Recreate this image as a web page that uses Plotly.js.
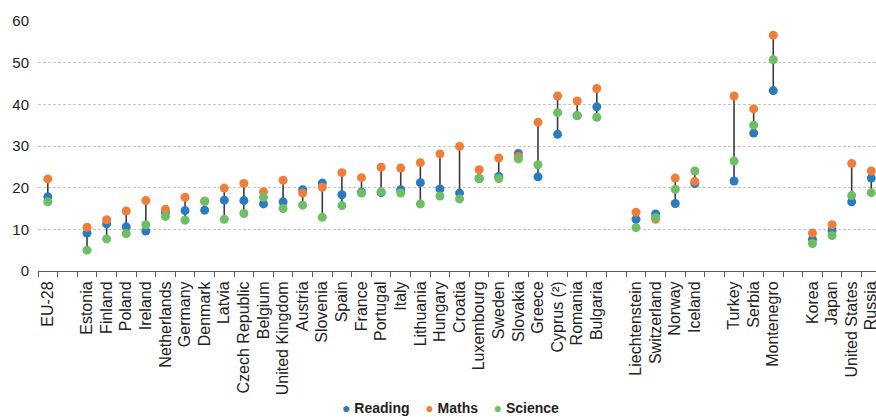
<!DOCTYPE html>
<html>
<head>
<meta charset="utf-8">
<script src="https://cdn.plot.ly/plotly-3.0.1.min.js"></script>
<style>
html,body{margin:0;padding:0;background:#fff;}
#chart{width:876px;height:417px;}
</style>
</head>
<body>
<div id="chart"></div>
<script>
// Categories (blank entries are the visual gaps between country groups)
var categories = ["EU-28", " ",
  "Estonia","Finland","Poland","Ireland","Netherlands","Germany","Denmark","Latvia",
  "Czech Republic","Belgium","United Kingdom","Austria","Slovenia","Spain","France",
  "Portugal","Italy","Lithuania","Hungary","Croatia","Luxembourg","Sweden","Slovakia",
  "Greece","Cyprus (²)","Romania","Bulgaria", "  ",
  "Liechtenstein","Switzerland","Norway","Iceland", "   ",
  "Turkey","Serbia","Montenegro", "    ",
  "Korea","Japan","United States","Russia"];

var reading = [17.8, null,
  9.1, 11.3, 10.6, 9.6, 14.0, 14.5, 14.6, 17.0,
  16.9, 16.1, 16.6, 19.5, 21.1, 18.3, 18.9,
  18.8, 19.5, 21.2, 19.7, 18.7, 22.2, 22.7, 28.2,
  22.6, 32.8, 37.3, 39.4, null,
  12.4, 13.7, 16.2, 21.0, null,
  21.6, 33.1, 43.3, null,
  7.6, 9.8, 16.6, 22.3];

var maths = [22.1, null,
  10.5, 12.3, 14.4, 16.9, 14.8, 17.7, 16.8, 19.9,
  21.0, 19.0, 21.8, 18.7, 20.1, 23.6, 22.4,
  24.9, 24.7, 26.0, 28.1, 29.9, 24.3, 27.1, 27.5,
  35.7, 42.0, 40.8, 43.8, null,
  14.1, 12.4, 22.3, 21.5, null,
  42.0, 38.9, 56.6, null,
  9.1, 11.1, 25.8, 24.0];

var science = [16.6, null,
  5.0, 7.7, 9.0, 11.1, 13.1, 12.2, 16.7, 12.4,
  13.8, 17.7, 15.0, 15.8, 12.9, 15.7, 18.7,
  19.0, 18.7, 16.1, 18.0, 17.3, 22.2, 22.2, 26.9,
  25.5, 38.0, 37.3, 36.9, null,
  10.4, 12.8, 19.6, 24.0, null,
  26.4, 35.0, 50.7, null,
  6.6, 8.5, 18.1, 18.8];

var seriesNames = ["Reading", "Maths", "Science"];
var seriesColors = ["#2B7BC0", "#F07D3A", "#6CBF63"];

// vertical range lines from min to max of the three series
var lx = [], ly = [];
categories.forEach(function (c, i) {
  var vals = [reading[i], maths[i], science[i]].filter(function (v) { return v !== null; });
  if (!vals.length) return;
  lx.push(c, c, null);
  ly.push(Math.min.apply(null, vals), Math.max.apply(null, vals), null);
});

var traces = [{
  x: lx, y: ly, type: "scatter", mode: "lines",
  line: {color: "#3a3a3a", width: 1.6},
  showlegend: false, hoverinfo: "skip", connectgaps: false
}];

[reading, maths, science].forEach(function (arr, k) {
  traces.push({
    x: categories, y: arr, type: "scatter", mode: "markers",
    name: seriesNames[k], showlegend: false,
    marker: {color: seriesColors[k], size: 9, line: {width: 0}}
  });
});

// compact legend drawn as one text line (series names + colored dots)
var NB = "\u00a0";
var legendText = seriesNames.map(function (n, k) {
  return "<span style='color:" + seriesColors[k] + "'>●</span>" + NB + "<b>" + n + "</b>";
}).join(NB + NB + NB + NB);

var layout = {
  width: 876, height: 417,
  margin: {l: 38, r: 0, t: 21, b: 146, pad: 0},
  paper_bgcolor: "#ffffff", plot_bgcolor: "#ffffff",
  font: {family: "Liberation Sans, Arial, sans-serif", color: "#222222"},
  showlegend: false,
  annotations: [{
    xref: "paper", yref: "paper", x: 0.492, y: -0.548,
    xanchor: "center", yanchor: "middle", showarrow: false,
    text: legendText, font: {size: 14, color: "#222222"}
  }],
  xaxis: {
    type: "category", categoryorder: "array", categoryarray: categories,
    range: [-0.5, 42.24], autorange: false,
    showline: true, linecolor: "#5a5a5a", linewidth: 1,
    ticks: "outside", ticklen: 5, tickcolor: "#5a5a5a", tickwidth: 1,
    tickson: "boundaries", tickangle: -90, ticklabelstandoff: 3,
    tickfont: {size: 16, color: "#222222"},
    showgrid: false, zeroline: false, fixedrange: true
  },
  yaxis: {
    range: [0, 60], autorange: false, dtick: 10, tick0: 0,
    showline: false, zeroline: false,
    showgrid: true, gridcolor: "#c6c6c6", gridwidth: 1, griddash: "3px,2px",
    ticks: "", ticklabelstandoff: 8,
    tickfont: {size: 15, color: "#222222"}, fixedrange: true
  }
};

Plotly.newPlot("chart", traces, layout, {displayModeBar: false, staticPlot: true});
</script>
</body>
</html>
